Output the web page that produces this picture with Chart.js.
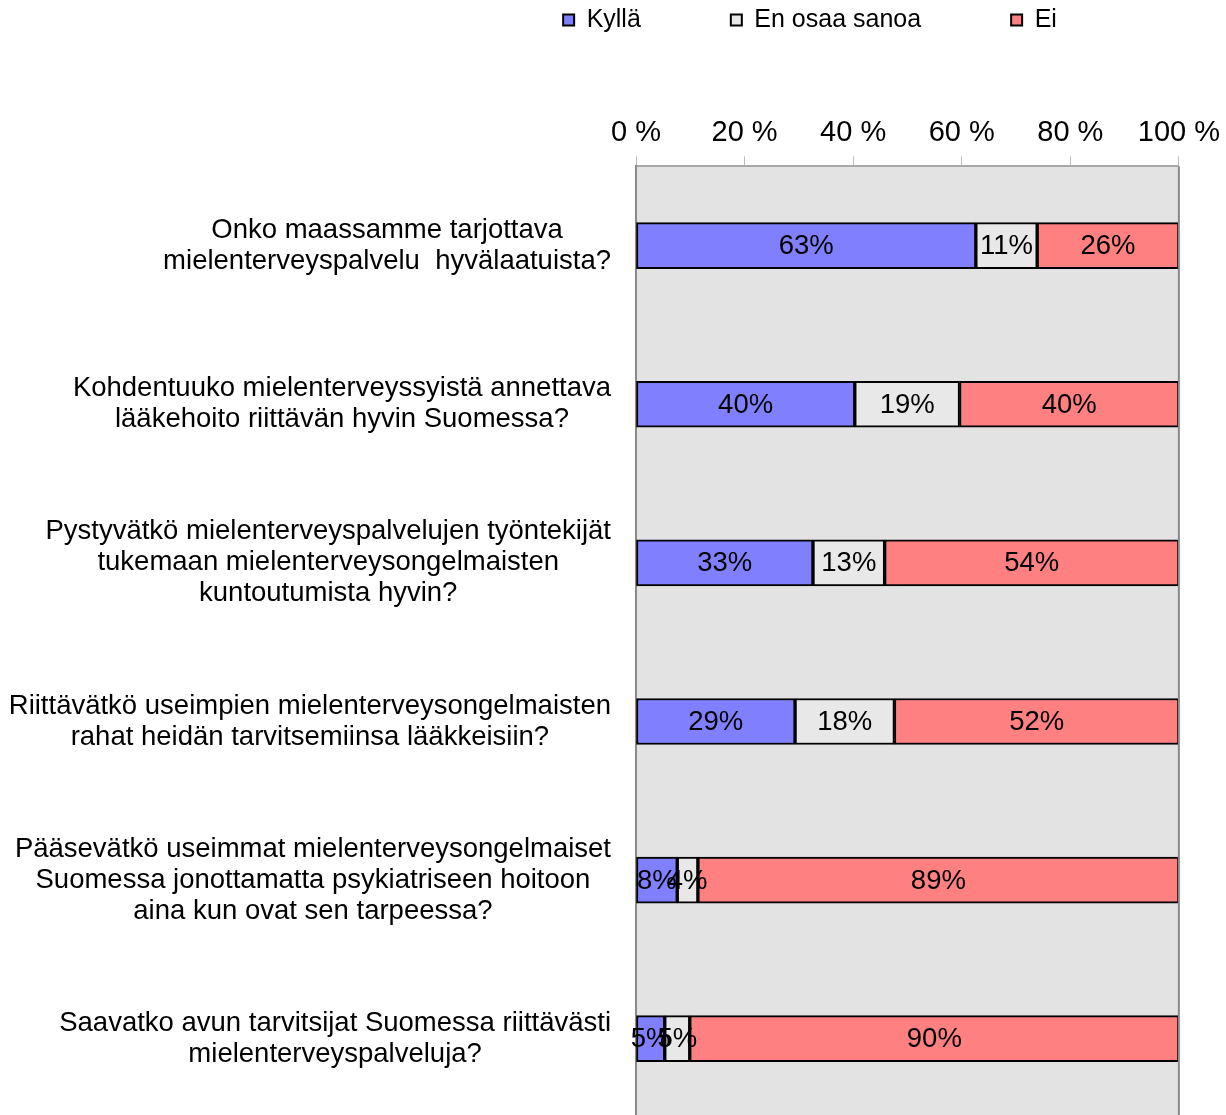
<!DOCTYPE html>
<html>
<head>
<meta charset="utf-8">
<script src="https://cdn.jsdelivr.net/npm/chart.js@4.4.1/dist/chart.umd.min.js"></script>
<style>
  html, body { margin: 0; padding: 0; background: #fff; overflow: hidden; }
  #wrap { width: 1226px; height: 1120px; position: relative; }
</style>
</head>
<body>
<div id="wrap"><canvas id="chart-kysely"></canvas></div>
<script>
const FONT = "'Liberation Sans', Arial, sans-serif";

const kysymykset = [
  ['Onko maassamme tarjottava', 'mielenterveyspalvelu  hyvälaatuista?'],
  ['Kohdentuuko mielenterveyssyistä annettava', 'lääkehoito riittävän hyvin Suomessa?'],
  ['Pystyvätkö mielenterveyspalvelujen työntekijät', 'tukemaan mielenterveysongelmaisten', 'kuntoutumista hyvin?'],
  ['Riittävätkö useimpien mielenterveysongelmaisten', 'rahat heidän tarvitsemiinsa lääkkeisiin?'],
  ['Pääsevätkö useimmat mielenterveysongelmaiset', 'Suomessa jonottamatta psykiatriseen hoitoon', 'aina kun ovat sen tarpeessa?'],
  ['Saavatko avun tarvitsijat Suomessa riittävästi', 'mielenterveyspalveluja?'],
];

const kylla  = [62.6, 40.3, 32.6, 29.3, 7.6, 5.3];
const enOsaa = [11.3, 19.3, 13.2, 18.3, 3.8, 4.6];
const ei     = [26.1, 40.4, 54.2, 52.4, 88.6, 90.1];

const xTicks = [0, 20, 40, 60, 80, 100];

// harmaa tausta piirtoalueelle + oikea reunaviiva
const plotBg = {
  id: 'plotBg',
  beforeDraw(chart) {
    const { ctx, chartArea: a } = chart;
    ctx.save();
    ctx.fillStyle = '#E3E3E3';
    ctx.fillRect(a.left, a.top, a.right - a.left, a.bottom - a.top);
    ctx.restore();
  },
  afterDraw(chart) {
    const { ctx, chartArea: a } = chart;
    ctx.save();
    ctx.strokeStyle = '#8A8A8A';
    ctx.lineWidth = 2;
    ctx.beginPath();
    ctx.moveTo(a.right, a.top);
    ctx.lineTo(a.right, a.bottom);
    ctx.stroke();
    ctx.restore();
  }
};

// lisää tilaa selitteen alle
const legendMargin = {
  id: 'legendMargin',
  beforeInit(chart) {
    const fit = chart.legend.fit;
    chart.legend.fit = function () {
      fit.bind(chart.legend)();
      this.height += 67;
    };
  }
};

// kysymystekstit: jokainen lohko keskitetty, oikea reuna kiinni akselissa
const questionLabels = {
  id: 'questionLabels',
  afterDraw(chart) {
    const { ctx, chartArea } = chart;
    const y = chart.scales.y;
    const lineH = 31;
    const rightEdge = chartArea.left - 25;
    ctx.save();
    ctx.font = `27.5px ${FONT}`;
    ctx.fillStyle = '#000';
    ctx.textAlign = 'center';
    ctx.textBaseline = 'middle';
    kysymykset.forEach((lines, i) => {
      const widest = Math.max(...lines.map(l => ctx.measureText(l).width));
      const cx = rightEdge - widest / 2;
      const cy = y.getPixelForValue(i);
      const top = cy - (lines.length - 1) * lineH / 2;
      lines.forEach((l, j) => ctx.fillText(l, cx, top + j * lineH));
    });
    ctx.restore();
  }
};

// prosenttiluvut palkkien keskelle
const barLabels = {
  id: 'barLabels',
  afterDatasetsDraw(chart) {
    const { ctx } = chart;
    ctx.save();
    ctx.font = `27.5px ${FONT}`;
    ctx.fillStyle = '#000';
    ctx.textAlign = 'center';
    ctx.textBaseline = 'middle';
    chart.data.datasets.forEach((ds, di) => {
      chart.getDatasetMeta(di).data.forEach((bar, i) => {
        const cx = (bar.x + bar.base) / 2;
        ctx.fillText(Math.round(ds.data[i]) + '%', cx, bar.y + 1);
      });
    });
    ctx.restore();
  }
};

new Chart(document.getElementById('chart-kysely'), {
  type: 'bar',
  data: {
    labels: kysymykset.map(l => l.join(' ')),
    datasets: [
      { label: 'Kyllä', data: kylla, backgroundColor: '#8080FF' },
      { label: 'En osaa sanoa', data: enOsaa, backgroundColor: '#E8E8E8' },
      { label: 'Ei', data: ei, backgroundColor: '#FF8080' },
    ].map(d => ({ ...d, borderColor: '#000', borderWidth: 2, borderSkipped: false, barThickness: 46 }))
  },
  plugins: [plotBg, legendMargin, questionLabels, barLabels],
  options: {
    indexAxis: 'y',
    responsive: true,
    maintainAspectRatio: false,
    animation: false,
    layout: { padding: { left: 440, right: 46, top: -82.5, bottom: 2 } },
    plugins: {
      tooltip: { enabled: false },
      legend: {
        position: 'top',
        labels: {
          font: { family: FONT, size: 25 },
          color: '#000',
          boxWidth: 11,
          boxHeight: 11,
          padding: 90,
        }
      }
    },
    scales: {
      x: {
        position: 'top',
        stacked: true,
        min: 0,
        max: 100,
        afterBuildTicks: s => { s.ticks = xTicks.map(v => ({ value: v })); },
        ticks: {
          callback: v => v + ' %',
          font: { family: FONT, size: 29 },
          color: '#000',
          padding: 6,
          maxRotation: 0,
        },
        grid: { drawOnChartArea: false, tickLength: 10, color: '#BDBDBD' },
        border: { color: '#A8A8A8', width: 2 },
      },
      y: {
        stacked: true,
        ticks: { display: false },
        grid: { display: false },
        border: { color: '#8A8A8A', width: 2 },
        afterFit: s => { s.width = 196; },
      }
    }
  }
});
</script>
</body>
</html>
